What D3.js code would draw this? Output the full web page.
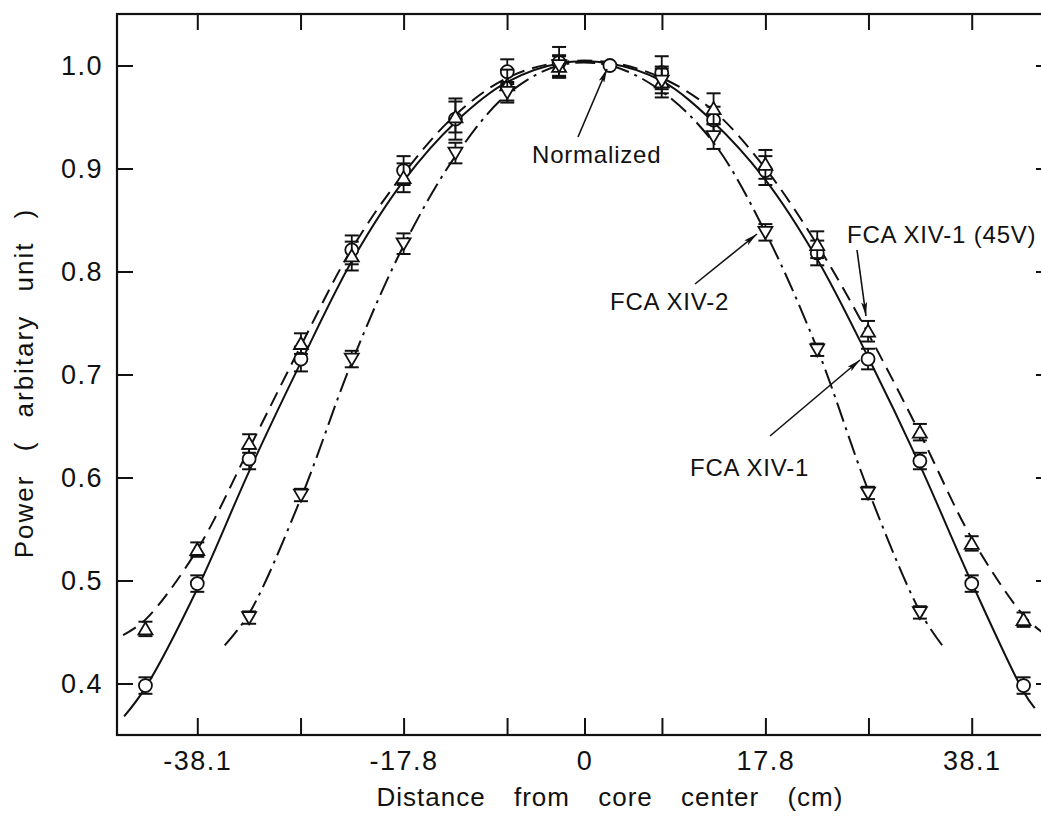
<!DOCTYPE html>
<html>
<head>
<meta charset="utf-8">
<script src="https://cdn.jsdelivr.net/npm/d3@7"></script>
<style>
  html, body { margin: 0; padding: 0; background: #fff; }
  svg { display: block; }
  text { font-family: "Liberation Sans", Arial, sans-serif; fill: #111; }
</style>
</head>
<body>
<svg id="chart" width="1041" height="823"></svg>
<script>
// ---------------- data ----------------
const xPositions = [-43.2, -38.1, -33.0, -27.9, -22.9, -17.8, -12.7, -7.6, -2.5, 2.5, 7.6, 12.7, 17.8, 22.9, 27.9, 33.0, 38.1, 43.2];

// FCA XIV-1 (circles, solid)
const xiv1Values = [0.398, 0.497, 0.618, 0.715, 0.821, 0.898, 0.948, 0.994, 1.003, 1.000, 0.993, 0.947, 0.898, 0.818, 0.715, 0.616, 0.497, 0.398];
const xiv1Errors = [0.008, 0.008, 0.010, 0.012, 0.014, 0.014, 0.020, 0.012, 0.015, 0, 0.016, 0.013, 0.014, 0.012, 0.010, 0.008, 0.008, 0.008];

// FCA XIV-1 (45V) (up triangles, dashed)
const xiv145Values = [0.453, 0.530, 0.633, 0.730, 0.815, 0.891, 0.950, 0.981, 0.999, null, 0.984, 0.958, 0.904, 0.826, 0.742, 0.644, 0.536, 0.462];
const xiv145Errors = [0.007, 0.007, 0.009, 0.010, 0.014, 0.014, 0.015, 0.015, 0.010, 0, 0.015, 0.015, 0.014, 0.013, 0.010, 0.008, 0.007, 0.007];

// FCA XIV-2 (down triangles, dash-dot)
const xiv2Values = [null, null, 0.464, 0.583, 0.715, 0.827, 0.915, 0.974, 1.000, null, 0.985, 0.931, 0.838, 0.724, 0.585, 0.469, null, null];
const xiv2Errors = [0, 0, 0.006, 0.006, 0.008, 0.010, 0.010, 0.010, 0.010, 0, 0.012, 0.012, 0.008, 0.006, 0.006, 0.006, 0, 0];

// fitted curves
const xiv1Curve = [[-45.3,0.368],[-43.2,0.396],[-38.1,0.492],[-33.0,0.606],[-27.9,0.712],[-22.9,0.810],[-17.8,0.888],[-12.7,0.945],[-7.6,0.984],[-2.5,1.002],[2.5,1.002],[7.6,0.985],[12.7,0.945],[17.8,0.889],[22.9,0.812],[27.9,0.717],[33.0,0.612],[38.1,0.498],[43.2,0.392],[44.3,0.376]];
const xiv145Curve = [[-45.4,0.447],[-43.2,0.462],[-38.1,0.530],[-33.0,0.628],[-27.9,0.728],[-22.9,0.822],[-17.8,0.895],[-12.7,0.952],[-7.6,0.988],[-2.5,1.003],[2.5,1.003],[7.6,0.988],[12.7,0.956],[17.8,0.900],[22.9,0.826],[27.9,0.740],[33.0,0.643],[38.1,0.541],[43.2,0.466],[45.0,0.450]];
const xiv2Curve = [[-35.4,0.437],[-33.0,0.468],[-27.9,0.580],[-22.9,0.712],[-17.8,0.825],[-12.7,0.912],[-7.6,0.972],[-2.5,1.000],[2.5,1.000],[7.6,0.975],[12.7,0.925],[17.8,0.838],[22.9,0.725],[27.9,0.588],[33.0,0.470],[35.2,0.437]];

const xTickValues = [-38.1, -27.94, -17.8, -7.62, 0, 7.62, 17.8, 27.94, 38.1];
const xTickLabels = {"-38.1":"-38.1", "-17.8":"-17.8", "0":"0", "17.8":"17.8", "38.1":"38.1"};
const yTickValues = [0.4, 0.5, 0.6, 0.7, 0.8, 0.9, 1.0];

const xTitle = "Distance from core center (cm)";
const yTitle = "Power ( arbitary unit )";

// ---------------- drawing ----------------
const svg = d3.select("#chart");
svg.append("rect").attr("width", 1041).attr("height", 823).attr("fill", "#fff");

const L = 117, R = 1052, T = 14, B = 735;
const x = d3.scaleLinear().domain([-46, 46]).range([L, R]);
const y = d3.scaleLinear().domain([0.35, 1.05]).range([B, T]);

const ink = "#111";

function styleAxis(g) {
  g.select(".domain").remove();
  g.selectAll(".tick line").attr("stroke", ink).attr("stroke-width", 2);
  g.selectAll(".tick text").attr("font-size", 27).attr("letter-spacing", "1.5px").attr("fill", ink)
    .style("font-family", "'Liberation Sans', Arial, sans-serif");
}

svg.append("g").attr("transform", `translate(0,${B})`)
  .call(d3.axisBottom(x).tickValues(xTickValues).tickSize(-17).tickPadding(16)
    .tickFormat(d => xTickLabels[String(d)] || ""))
  .call(styleAxis);
svg.append("g").attr("transform", `translate(0,${T})`)
  .call(d3.axisTop(x).tickValues(xTickValues).tickSize(-16).tickFormat(""))
  .call(styleAxis);
svg.append("g").attr("transform", `translate(${L},0)`)
  .call(d3.axisLeft(y).tickValues(yTickValues).tickSize(-16).tickPadding(14).tickFormat(d3.format(".1f")))
  .call(styleAxis);
svg.append("g").attr("transform", `translate(${R},0)`)
  .call(d3.axisRight(y).tickValues(yTickValues).tickSize(-16).tickFormat(""))
  .call(styleAxis);

svg.append("rect").attr("x", L).attr("y", T).attr("width", R - L).attr("height", B - T)
  .attr("fill", "none").attr("stroke", ink).attr("stroke-width", 2.2);

// titles
svg.append("text").attr("x", 610).attr("y", 806).attr("text-anchor", "middle")
  .attr("font-size", 26).attr("letter-spacing", "1px").attr("word-spacing", "20px").text(xTitle);
svg.append("text").attr("transform", "translate(33,383) rotate(-90)").attr("text-anchor", "middle")
  .attr("font-size", 26).attr("letter-spacing", "2px").attr("word-spacing", "14px").text(yTitle);

// curves
const line = d3.line().x(d => x(d[0])).y(d => y(d[1])).curve(d3.curveCatmullRom.alpha(0.5));
const plot = svg.append("g");
plot.append("path").attr("d", line(xiv1Curve)).attr("fill", "none").attr("stroke", ink).attr("stroke-width", 2);
plot.append("path").attr("d", line(xiv145Curve)).attr("fill", "none").attr("stroke", ink).attr("stroke-width", 2)
  .attr("stroke-dasharray", "15,8");
plot.append("path").attr("d", line(xiv2Curve)).attr("fill", "none").attr("stroke", ink).attr("stroke-width", 2)
  .attr("stroke-dasharray", "20,6,3,6");

// error bars + markers
const capW = 7;
function series(values, errors, shape) {
  const pts = xPositions.map((xv, i) => ({x: xv, v: values[i], e: errors[i]})).filter(d => d.v !== null);
  const g = plot.append("g");
  pts.filter(d => d.e > 0).forEach(d => {
    const cx = x(d.x), y1 = y(d.v + d.e), y2 = y(d.v - d.e);
    g.append("line").attr("x1", cx).attr("x2", cx).attr("y1", y1).attr("y2", y2).attr("stroke", ink).attr("stroke-width", 1.8);
    g.append("line").attr("x1", cx - capW).attr("x2", cx + capW).attr("y1", y1).attr("y2", y1).attr("stroke", ink).attr("stroke-width", 2);
    g.append("line").attr("x1", cx - capW).attr("x2", cx + capW).attr("y1", y2).attr("y2", y2).attr("stroke", ink).attr("stroke-width", 2);
  });
  return {g, pts, shape};
}
const s1 = series(xiv1Values, xiv1Errors, "circle");
const s2 = series(xiv145Values, xiv145Errors, "up");
const s3 = series(xiv2Values, xiv2Errors, "down");

function drawMarkers(s) {
  s.pts.forEach(d => {
    const cx = x(d.x), cy = y(d.v);
    if (s.shape === "circle") {
      s.g.append("circle").attr("cx", cx).attr("cy", cy).attr("r", 6.5)
        .attr("fill", "#fff").attr("stroke", ink).attr("stroke-width", 1.8);
    } else {
      const h = 12, w = 7;
      const pts = s.shape === "up"
        ? [[cx, cy - h * 0.55], [cx - w, cy + h * 0.45], [cx + w, cy + h * 0.45]]
        : [[cx, cy + h * 0.55], [cx - w, cy - h * 0.45], [cx + w, cy - h * 0.45]];
      s.g.append("polygon").attr("points", pts.map(p => p.join(",")).join(" "))
        .attr("fill", "#fff").attr("stroke", ink).attr("stroke-width", 1.8);
    }
  });
}
drawMarkers(s3);
drawMarkers(s2);
drawMarkers(s1);

// annotations
const defs = svg.append("defs");
defs.append("marker").attr("id", "arr").attr("viewBox", "0 0 14 6").attr("refX", 14).attr("refY", 3)
  .attr("markerWidth", 14).attr("markerHeight", 6).attr("markerUnits", "userSpaceOnUse").attr("orient", "auto")
  .append("path").attr("d", "M0,0 L14,3 L0,6 L3,3 Z").attr("fill", ink);

const annotations = [
  {text: "Normalized", tx: 532, ty: 163, ax1: 578, ay1: 137, ax2: 607, ay2: 69},
  {text: "FCA XIV-1 (45V)", tx: 847, ty: 243, ax1: 857, ay1: 250, ax2: 866, ay2: 316},
  {text: "FCA XIV-2", tx: 610, ty: 310, ax1: 695, ay1: 284, ax2: 757, ay2: 234},
  {text: "FCA XIV-1", tx: 690, ty: 476, ax1: 770, ay1: 436, ax2: 860, ay2: 360}
];
annotations.forEach(a => {
  svg.append("line").attr("x1", a.ax1).attr("y1", a.ay1).attr("x2", a.ax2).attr("y2", a.ay2)
    .attr("stroke", ink).attr("stroke-width", 1.6).attr("marker-end", "url(#arr)");
  svg.append("text").attr("x", a.tx).attr("y", a.ty).attr("font-size", 24).attr("letter-spacing", "0.8px").text(a.text);
});
</script>
</body>
</html>
